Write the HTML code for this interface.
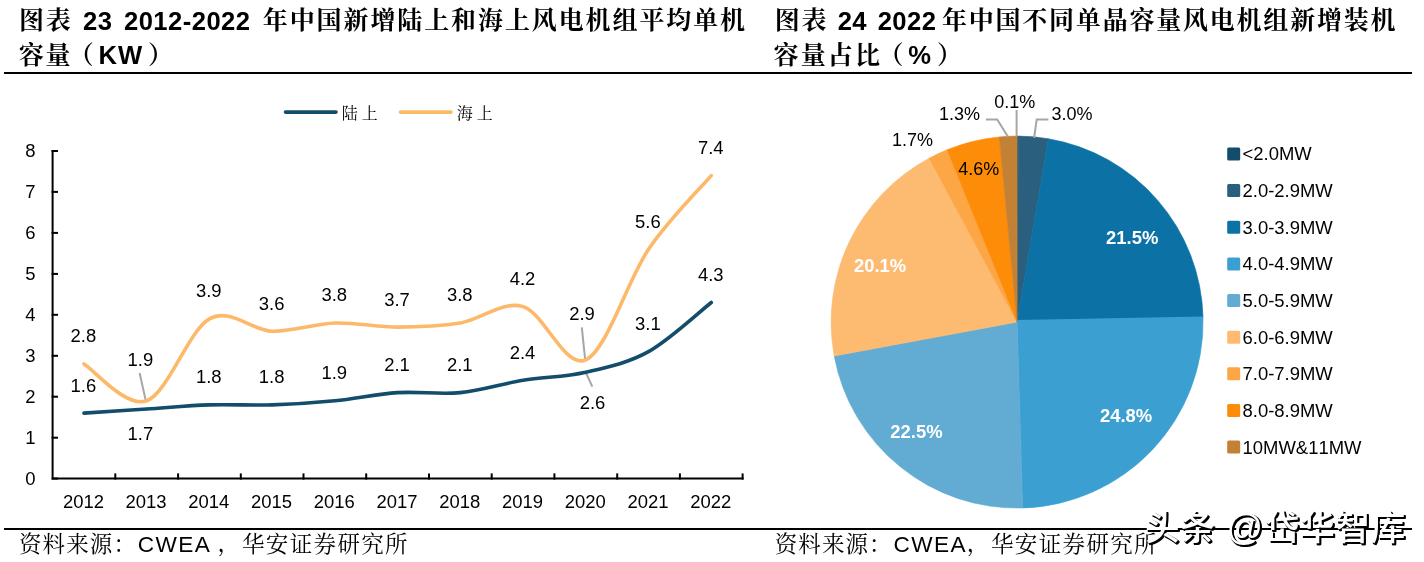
<!DOCTYPE html>
<html lang="zh-CN"><head><meta charset="utf-8"><title>图表 23 / 图表 24</title>
<style>
html,body{margin:0;padding:0;background:#fff}
body{width:1424px;height:562px;position:relative;overflow:hidden;font-family:"Liberation Sans","Noto Serif CJK SC",serif;color:#000}
.t{position:absolute;white-space:nowrap;line-height:1;font-weight:bold;font-size:25px;letter-spacing:1.7px;font-family:"Liberation Sans","Noto Serif CJK SC",serif}
.t b{font-size:25.6px;font-weight:bold;letter-spacing:0.45px;font-family:"Liberation Sans",sans-serif}
.s{position:absolute;white-space:nowrap;line-height:1;font-size:22.5px;letter-spacing:1.1px;font-family:"Liberation Sans","Noto Serif CJK SC",serif;font-weight:400}
.s b{font-weight:400;font-size:22.6px;letter-spacing:1.4px;font-family:"Liberation Sans",sans-serif}
.lg{position:absolute;white-space:nowrap;line-height:1;font-size:16px;letter-spacing:3.9px;font-family:"Liberation Sans","Noto Serif CJK SC",serif}
.rule{position:absolute;background:#000;height:2.2px}
svg{position:absolute;left:0;top:0}
.wm{position:absolute;left:1145px;top:510px;font-family:"Liberation Sans","Noto Sans CJK SC",sans-serif;font-size:34.5px;font-weight:500;line-height:1;white-space:nowrap;color:#fff;text-shadow:2px 2px 0 #000,1px 1px 0 #000,2px 1px 0 #000,1px 2px 0 #000;letter-spacing:0.8px}
</style></head><body>
<div class="rule" style="left:4px;top:71.8px;width:1407.6px"></div>
<div class="rule" style="left:4px;top:527.5px;width:1407.6px"></div>
<svg width="1424" height="562" viewBox="0 0 1424 562">
<g stroke="#000" stroke-width="2" fill="none" stroke-linecap="square">
<path d="M52.6 151.0 V478.6 H742.6"/>
<path d="M52.6 478.6 h4.4"/>
<path d="M52.6 437.7 h4.4"/>
<path d="M52.6 396.7 h4.4"/>
<path d="M52.6 355.8 h4.4"/>
<path d="M52.6 314.8 h4.4"/>
<path d="M52.6 273.9 h4.4"/>
<path d="M52.6 232.9 h4.4"/>
<path d="M52.6 191.9 h4.4"/>
<path d="M52.6 151.0 h4.4"/>
<path d="M115.3 478.6 v-4.2"/>
<path d="M178.1 478.6 v-4.2"/>
<path d="M240.8 478.6 v-4.2"/>
<path d="M303.5 478.6 v-4.2"/>
<path d="M366.2 478.6 v-4.2"/>
<path d="M429.0 478.6 v-4.2"/>
<path d="M491.7 478.6 v-4.2"/>
<path d="M554.4 478.6 v-4.2"/>
<path d="M617.2 478.6 v-4.2"/>
<path d="M679.9 478.6 v-4.2"/>
<path d="M742.6 478.6 v-4.2"/>
</g>
<g stroke="#a6a6a6" stroke-width="2" fill="none">
<path d="M139.6 373 L146 401.6"/>
<path d="M581.8 327.3 L585.3 361"/>
<path d="M585.6 372.2 L592.3 386.6"/>
</g>
<path d="M83.97 363.94 C94.42 370.08 125.78 408.30 146.69 400.80 C167.60 393.29 188.51 330.50 209.42 318.89 C230.33 307.29 251.24 330.50 272.15 331.18 C293.06 331.86 313.97 323.67 334.88 322.99 C355.80 322.31 376.70 327.09 397.62 327.09 C418.53 327.09 439.44 326.40 460.35 322.99 C481.25 319.58 502.16 300.47 523.07 306.61 C543.98 312.75 564.89 369.40 585.80 359.85 C606.71 350.29 627.62 279.99 648.53 249.28 C669.44 218.57 700.81 187.85 711.26 175.57" fill="none" stroke="#fdb96a" stroke-width="3.6" stroke-linecap="round" stroke-linejoin="round"/>
<path d="M83.97 413.08 C94.42 412.40 125.78 410.35 146.69 408.99 C167.60 407.62 188.51 405.57 209.42 404.89 C230.33 404.21 251.24 405.57 272.15 404.89 C293.06 404.21 313.97 402.84 334.88 400.80 C355.80 398.75 376.70 393.97 397.62 392.61 C418.53 391.24 439.44 394.65 460.35 392.61 C481.25 390.56 502.16 383.73 523.07 380.32 C543.98 376.91 564.89 376.91 585.80 372.13 C606.71 367.35 627.62 363.26 648.53 351.66 C669.44 340.05 700.81 310.70 711.26 302.51" fill="none" stroke="#124d6b" stroke-width="3.6" stroke-linecap="round" stroke-linejoin="round"/>
<path d="M285.5 112.1 H336" stroke="#124d6b" stroke-width="3.6" stroke-linecap="round"/>
<path d="M400.5 112.1 H451" stroke="#fdb96a" stroke-width="3.6" stroke-linecap="round"/>
<g font-family="'Liberation Sans',sans-serif" font-size="18.45" style="font-kerning:none" fill="#000" text-anchor="middle">
<text x="30.4" y="485.0">0</text>
<text x="30.4" y="444.1">1</text>
<text x="30.4" y="403.1">2</text>
<text x="30.4" y="362.1">3</text>
<text x="30.4" y="321.2">4</text>
<text x="30.4" y="280.2">5</text>
<text x="30.4" y="239.3">6</text>
<text x="30.4" y="198.3">7</text>
<text x="30.4" y="157.4">8</text>
<text x="83.4" y="508">2012</text>
<text x="146.1" y="508">2013</text>
<text x="208.8" y="508">2014</text>
<text x="271.6" y="508">2015</text>
<text x="334.3" y="508">2016</text>
<text x="397.0" y="508">2017</text>
<text x="459.7" y="508">2018</text>
<text x="522.5" y="508">2019</text>
<text x="585.2" y="508">2020</text>
<text x="647.9" y="508">2021</text>
<text x="710.7" y="508">2022</text>
<text x="83.4" y="391.5">1.6</text>
<text x="83.4" y="342.3">2.8</text>
<text x="208.8" y="383.3">1.8</text>
<text x="208.8" y="297.3">3.9</text>
<text x="271.6" y="383.3">1.8</text>
<text x="271.6" y="309.6">3.6</text>
<text x="334.3" y="379.2">1.9</text>
<text x="334.3" y="301.4">3.8</text>
<text x="397.0" y="371.0">2.1</text>
<text x="397.0" y="305.5">3.7</text>
<text x="459.7" y="371.0">2.1</text>
<text x="459.7" y="301.4">3.8</text>
<text x="522.5" y="358.7">2.4</text>
<text x="522.5" y="285.0">4.2</text>
<text x="647.9" y="330.1">3.1</text>
<text x="647.9" y="227.7">5.6</text>
<text x="710.7" y="280.9">4.3</text>
<text x="710.7" y="154.0">7.4</text>
<text x="140.4" y="366.2">1.9</text>
<text x="140.4" y="439.8">1.7</text>
<text x="582.0" y="320.0">2.9</text>
<text x="592.5" y="408.8">2.6</text>
</g>
<path d="M1017.10 322.10 L1017.10 136.10 A186.00 186.00 0 0 1 1018.40 136.10 Z" fill="#124d6b" stroke="#124d6b" stroke-width="0.6"/>
<path d="M1017.10 322.10 L1018.40 136.10 A186.00 186.00 0 0 1 1048.28 138.73 Z" fill="#2a5f7e" stroke="#2a5f7e" stroke-width="0.6"/>
<path d="M1017.10 322.10 L1048.28 138.73 A186.00 186.00 0 0 1 1203.04 317.56 Z" fill="#0c71a5" stroke="#0c71a5" stroke-width="0.6"/>
<path d="M1017.10 322.10 L1203.04 317.56 A186.00 186.00 0 0 1 1022.62 508.02 Z" fill="#3c9fd2" stroke="#3c9fd2" stroke-width="0.6"/>
<path d="M1017.10 322.10 L1022.62 508.02 A186.00 186.00 0 0 1 834.21 356.00 Z" fill="#62abd3" stroke="#62abd3" stroke-width="0.6"/>
<path d="M1017.10 322.10 L834.21 356.00 A186.00 186.00 0 0 1 929.21 158.18 Z" fill="#fdbb72" stroke="#fdbb72" stroke-width="0.6"/>
<path d="M1017.10 322.10 L929.21 158.18 A186.00 186.00 0 0 1 947.12 149.77 Z" fill="#fda646" stroke="#fda646" stroke-width="0.6"/>
<path d="M1017.10 322.10 L947.12 149.77 A186.00 186.00 0 0 1 999.27 136.96 Z" fill="#fd8c08" stroke="#fd8c08" stroke-width="0.6"/>
<path d="M1017.10 322.10 L999.27 136.96 A186.00 186.00 0 0 1 1017.10 136.10 Z" fill="#c38136" stroke="#c38136" stroke-width="0.6"/>
<path d="M1016.8 322.4 L1017.3 319.9 L1202.7 316.6 L1202.8 318 Z" fill="#3c9fd2"/>
<g stroke="#a6a6a6" stroke-width="2" fill="none">
<path d="M1016.6 110 V136.5"/>
<path d="M986 119.5 H997.2 L1007.8 136.5"/>
<path d="M1048.4 119.5 H1036.7 L1034.1 138"/>
</g>
<g font-family="'Liberation Sans',sans-serif" font-size="18.45" style="font-kerning:none" fill="#000" text-anchor="middle">
<text x="1014.8" y="108.4" font-size="18">0.1%</text>
<text x="959.4" y="120.4" font-size="18">1.3%</text>
<text x="1072.1" y="120.4" font-size="18">3.0%</text>
<text x="978.7" y="174.5" font-size="18">4.6%</text>
<text x="912.5" y="145.7" font-size="18">1.7%</text>
<text x="1132.2" y="244.3" font-weight="bold" fill="#fff">21.5%</text>
<text x="1126.1" y="421.9" font-weight="bold" fill="#fff">24.8%</text>
<text x="916.4" y="437.6" font-weight="bold" fill="#fff">22.5%</text>
<text x="880.1" y="272.3" font-weight="bold" fill="#fff">20.1%</text>
</g>
<g font-family="'Liberation Sans',sans-serif" font-size="18.45" style="font-kerning:none" fill="#000">
<rect x="1227.2" y="147.5" width="13" height="13" rx="1.5" fill="#124d6b"/>
<text x="1242.6" y="160.4">&lt;2.0MW</text>
<rect x="1227.2" y="184.1" width="13" height="13" rx="1.5" fill="#2a5f7e"/>
<text x="1242.6" y="197.0">2.0-2.9MW</text>
<rect x="1227.2" y="220.8" width="13" height="13" rx="1.5" fill="#0c71a5"/>
<text x="1242.6" y="233.7">3.0-3.9MW</text>
<rect x="1227.2" y="257.4" width="13" height="13" rx="1.5" fill="#3c9fd2"/>
<text x="1242.6" y="270.3">4.0-4.9MW</text>
<rect x="1227.2" y="294.1" width="13" height="13" rx="1.5" fill="#62abd3"/>
<text x="1242.6" y="307.0">5.0-5.9MW</text>
<rect x="1227.2" y="330.7" width="13" height="13" rx="1.5" fill="#fdbb72"/>
<text x="1242.6" y="343.6">6.0-6.9MW</text>
<rect x="1227.2" y="367.3" width="13" height="13" rx="1.5" fill="#fda646"/>
<text x="1242.6" y="380.2">7.0-7.9MW</text>
<rect x="1227.2" y="404.0" width="13" height="13" rx="1.5" fill="#fd8c08"/>
<text x="1242.6" y="416.9">8.0-8.9MW</text>
<rect x="1227.2" y="440.6" width="13" height="13" rx="1.5" fill="#c38136"/>
<text x="1242.6" y="453.5">10MW&amp;11MW</text>
</g>
</svg>
<div class="t" id="t1a" style="left:19px;top:7.7px">图表</div>
<div class="t" id="t1b" style="left:83px;top:8.7px"><b>23</b></div>
<div class="t" id="t1c" style="left:124px;top:8.7px"><b>2012-2022</b></div>
<div class="t" id="t1d" style="left:262.8px;top:7.7px;letter-spacing:1.9px">年中国新增陆上和海上风电机组平均单机</div>
<div class="t" id="t1e" style="left:18.7px;top:43px">容量</div>
<div class="t" id="t1f" style="left:68.7px;top:43px">（</div>
<div class="t" id="t1g" style="left:98.6px;top:42.8px"><b style="letter-spacing:1px">KW</b></div>
<div class="t" id="t1h" style="left:148px;top:43px">）</div>
<div class="t" id="t2a" style="left:774.8px;top:7.7px">图表</div>
<div class="t" id="t2b" style="left:837.7px;top:8.7px"><b>24</b></div>
<div class="t" id="t2c" style="left:877.7px;top:8.7px"><b>2022</b></div>
<div class="t" id="t2d" style="left:942px;top:7.7px;letter-spacing:1.78px">年中国不同单晶容量风电机组新增装机</div>
<div class="t" id="t2e" style="left:773.6px;top:43px;letter-spacing:2.1px">容量占比</div>
<div class="t" id="t2f" style="left:878.5px;top:43px">（</div>
<div class="t" id="t2g" style="left:908.3px;top:42.8px"><b>%</b></div>
<div class="t" id="t2h" style="left:937px;top:43px">）</div>
<div class="lg" id="lg1" style="left:341.8px;top:106px">陆上</div>
<div class="lg" id="lg2" style="left:456.8px;top:106px">海上</div>
<div class="s" id="s1a" style="left:19px;top:534px">资料来源：</div>
<div class="s" id="s1b" style="left:137.8px;top:534.2px"><b>CWEA</b></div>
<div class="s" id="s1c" style="left:217.5px;top:532.5px">，</div>
<div class="s" id="s1d" style="left:242px;top:534px;letter-spacing:1.35px">华安证券研究所</div>
<div class="s" id="s2a" style="left:774.7px;top:534px">资料来源：</div>
<div class="s" id="s2b" style="left:893.5px;top:534.2px"><b>CWEA</b></div>
<div class="s" id="s2c" style="left:966.8px;top:532.5px">，</div>
<div class="s" id="s2d" style="left:991px;top:534px;letter-spacing:1.35px">华安证券研究所</div>
<div class="wm" id="wm"><span>头条</span><span style="margin-left:11px;font-size:36px">@</span><span style="margin-left:1px">岱华智库</span></div>
</body></html>
